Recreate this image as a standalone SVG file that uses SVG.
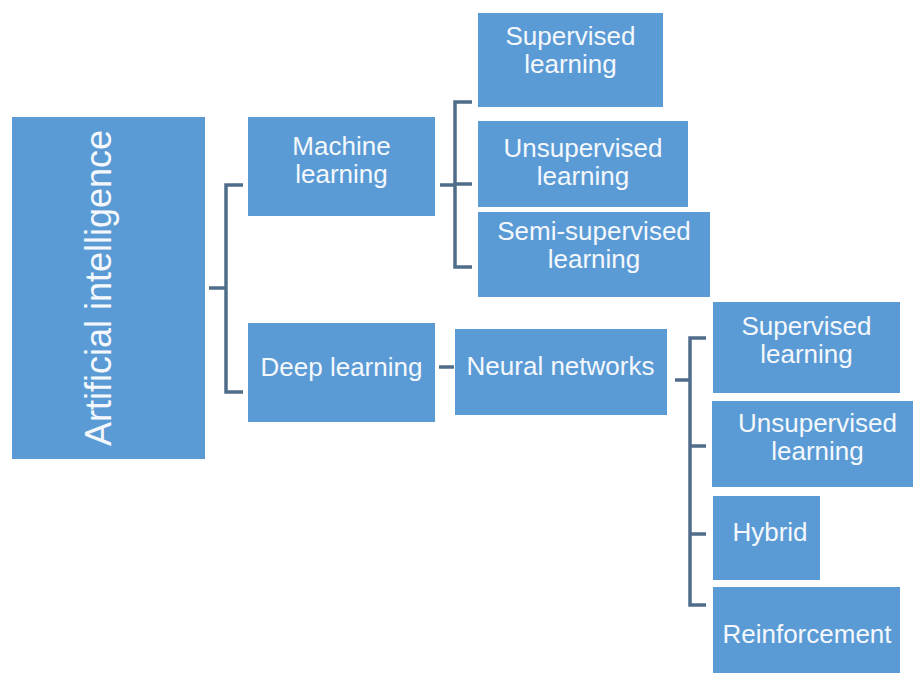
<svg xmlns="http://www.w3.org/2000/svg" width="913" height="673" viewBox="0 0 913 673">
<style>
.box{fill:#5b9bd5}
.t{font-family:"Liberation Sans",Arial,sans-serif;font-size:26px;fill:#f4f8fc;text-anchor:middle}
.c{fill:none;stroke:#4f6d8a;stroke-width:3.5}
</style>
<rect width="913" height="673" fill="#ffffff"/>
<g id="connectors">
<path class="c" d="M209 288H226M243 185H226V392H243"/>
<path class="c" d="M440 185H455M472 102H455V267H472M455 184H472"/>
<path class="c" d="M439 367H454"/>
<path class="c" d="M675 380H690M706 338H690V605H706M690 446H706M690 534H706"/>
</g>
<g id="ai">
<rect class="box" x="12" y="117" width="193" height="342"/>
<text class="t" style="font-size:36px" transform="translate(111 288) rotate(-90)">Artificial intelligence</text>
</g>
<g id="ml">
<rect class="box" x="248" y="117" width="187" height="99"/>
<text class="t" x="341.5" y="155">Machine</text>
<text class="t" x="341.5" y="183">learning</text>
</g>
<g id="dl">
<rect class="box" x="248" y="323" width="187" height="99"/>
<text class="t" x="341.5" y="376">Deep learning</text>
</g>
<g id="ml-sup">
<rect class="box" x="478" y="13" width="185" height="94"/>
<text class="t" x="570.5" y="45">Supervised</text>
<text class="t" x="570.5" y="73">learning</text>
</g>
<g id="ml-unsup">
<rect class="box" x="478" y="121" width="210" height="86"/>
<text class="t" x="583" y="157">Unsupervised</text>
<text class="t" x="583" y="185">learning</text>
</g>
<g id="ml-semi">
<rect class="box" x="478" y="212" width="232" height="85"/>
<text class="t" x="594" y="240">Semi-supervised</text>
<text class="t" x="594" y="268">learning</text>
</g>
<g id="nn">
<rect class="box" x="455" y="329" width="212" height="86"/>
<text class="t" x="560.5" y="375">Neural networks</text>
</g>
<g id="nn-sup">
<rect class="box" x="713" y="302" width="187" height="91"/>
<text class="t" x="806.5" y="335">Supervised</text>
<text class="t" x="806.5" y="363">learning</text>
</g>
<g id="nn-unsup">
<rect class="box" x="712" y="401" width="211" height="86"/>
<text class="t" x="817.5" y="432">Unsupervised</text>
<text class="t" x="817.5" y="460">learning</text>
</g>
<g id="nn-hybrid">
<rect class="box" x="713" y="496" width="107" height="84"/>
<text class="t" x="770" y="541">Hybrid</text>
</g>
<g id="nn-reinf">
<rect class="box" x="713" y="587" width="187" height="90"/>
<text class="t" x="807" y="643">Reinforcement</text>
</g>
</svg>
